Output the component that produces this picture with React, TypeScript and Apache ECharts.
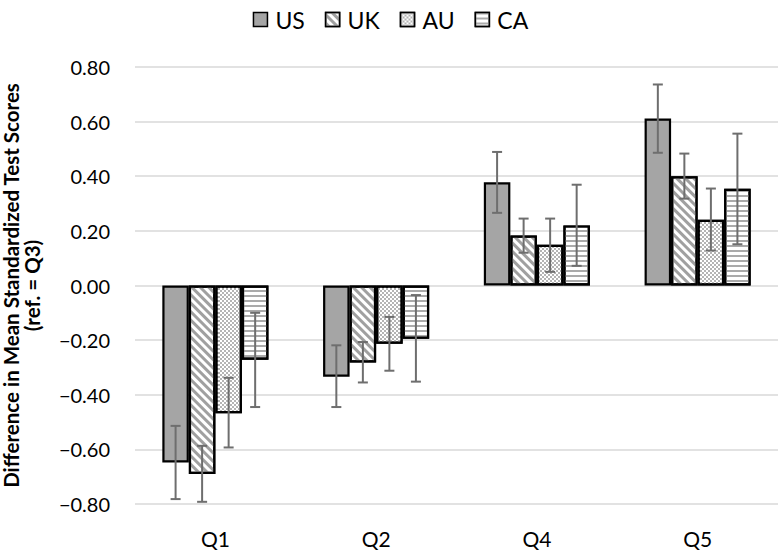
import React, { useEffect, useRef } from "react";
import * as echarts from "echarts";

const categories = ["Q1", "Q2", "Q4", "Q5"];
const seriesNames = ["US", "UK", "AU", "CA"];

const usValues = [-0.648, -0.334, 0.378, 0.611];
const ukValues = [-0.69, -0.282, 0.183, 0.4];
const auValues = [-0.468, -0.213, 0.149, 0.241];
const caValues = [-0.272, -0.195, 0.22, 0.354];

const usLow = [-0.782, -0.445, 0.266, 0.486];
const usHigh = [-0.514, -0.219, 0.489, 0.736];
const ukLow = [-0.792, -0.355, 0.12, 0.318];
const ukHigh = [-0.587, -0.207, 0.245, 0.483];
const auLow = [-0.593, -0.312, 0.05, 0.128];
const auHigh = [-0.338, -0.115, 0.245, 0.355];
const caLow = [-0.445, -0.352, 0.072, 0.151];
const caHigh = [-0.1, -0.035, 0.369, 0.556];

const values = [usValues, ukValues, auValues, caValues];
const lows = [usLow, ukLow, auLow, caLow];
const highs = [usHigh, ukHigh, auHigh, caHigh];

const FONT = "Lato";
const GROUP_FRAC = 0.66;

const decals: any[] = [
  null,
  {
    symbol: "rect",
    symbolSize: 1,
    dashArrayX: [1, 0],
    dashArrayY: [3, 3],
    rotation: Math.PI / 4,
    color: "#a0a0a0",
  },
  {
    symbol: "rect",
    symbolSize: 1,
    dashArrayX: [
      [2, 2],
      [0, 2, 2, 0],
    ],
    dashArrayY: [2, 0],
    color: "#b4b4b4",
  },
  {
    symbol: "rect",
    symbolSize: 1,
    dashArrayX: [1, 0],
    dashArrayY: [2, 2.4],
    color: "#aaaaaa",
  },
];

export default function App() {
  const ref = useRef<HTMLDivElement>(null);

  useEffect(() => {
    document.body.style.margin = "0";
    if (!ref.current) return;
    const chart = echarts.init(ref.current, undefined, { renderer: "svg" });

    const barSeries = seriesNames.map((name, i) => ({
      name,
      type: "bar",
      data: values[i],
      barGap: "0%",
      barCategoryGap: `${Math.round((1 - GROUP_FRAC) * 100)}%`,
      itemStyle: {
        color: i === 0 ? "#a5a5a5" : "#ffffff",
        borderColor: "#000000",
        borderWidth: 2.2,
        decal: decals[i] || undefined,
      },
      emphasis: { disabled: true },
    }));

    const errSeries = seriesNames.map((name, i) => ({
      name: name + " error",
      type: "custom",
      data: categories.map((_, c) => [c, lows[i][c], highs[i][c]]),
      encode: { x: 0, y: [1, 2] },
      z: 10,
      silent: true,
      renderItem: (params: any, api: any) => {
        const cat = api.value(0);
        const lo = api.coord([cat, api.value(1)]);
        const hi = api.coord([cat, api.value(2)]);
        const bandW = api.size([1, 0])[0];
        const barW = (bandW * GROUP_FRAC) / 4;
        const x = lo[0] + (i - 1.5) * barW;
        const cap = 5;
        const style = { stroke: "#6e6e6e", lineWidth: 2 };
        return {
          type: "group",
          children: [
            { type: "line", shape: { x1: x, y1: lo[1], x2: x, y2: hi[1] }, style },
            { type: "line", shape: { x1: x - cap, y1: lo[1], x2: x + cap, y2: lo[1] }, style },
            { type: "line", shape: { x1: x - cap, y1: hi[1], x2: x + cap, y2: hi[1] }, style },
          ],
        };
      },
    }));

    chart.setOption({
      animation: false,
      aria: { enabled: false, decal: { show: false } },
      textStyle: { fontFamily: FONT },
      legend: {
        data: seriesNames,
        top: 3,
        left: "center",
        itemWidth: 14,
        itemHeight: 14,
        itemGap: 20,
        icon: "rect",
        itemStyle: { borderColor: "#000", borderWidth: 1.5 },
        textStyle: { fontFamily: FONT, fontSize: 23, color: "#000", padding: [0, 0, 0, 3] },
      },
      grid: {
        left: 135,
        right: 3,
        top: 67,
        bottom: 54,
        containLabel: false,
        outerBoundsMode: "none",
      },
      xAxis: {
        type: "category",
        data: categories,
        axisLine: { show: false },
        axisTick: { show: false },
        axisLabel: { fontFamily: FONT, fontSize: 21, color: "#000", margin: 24 },
      },
      yAxis: {
        type: "value",
        min: -0.8,
        max: 0.8,
        interval: 0.2,
        name: "Difference in Mean Standardized Test Scores\n(ref. = Q3)",
        nameLocation: "middle",
        nameGap: 93,
        nameTextStyle: {
          fontFamily: FONT,
          fontSize: 20.5,
          fontWeight: "bold",
          color: "#000",
          lineHeight: 21,
          align: "center",
        },
        axisLine: { show: false },
        axisTick: { show: false },
        splitLine: { lineStyle: { color: "#d9d9d9", width: 1.5 } },
        axisLabel: {
          fontFamily: FONT,
          fontSize: 20,
          color: "#000",
          margin: 25,
          formatter: (v: number) =>
            (v < -1e-9 ? "\u2212" : "") + Math.abs(v).toFixed(2),
        },
      },
      series: [...barSeries, ...errSeries],
    });

    return () => chart.dispose();
  }, []);

  return <div ref={ref} style={{ width: 781, height: 558 }} />;
}
